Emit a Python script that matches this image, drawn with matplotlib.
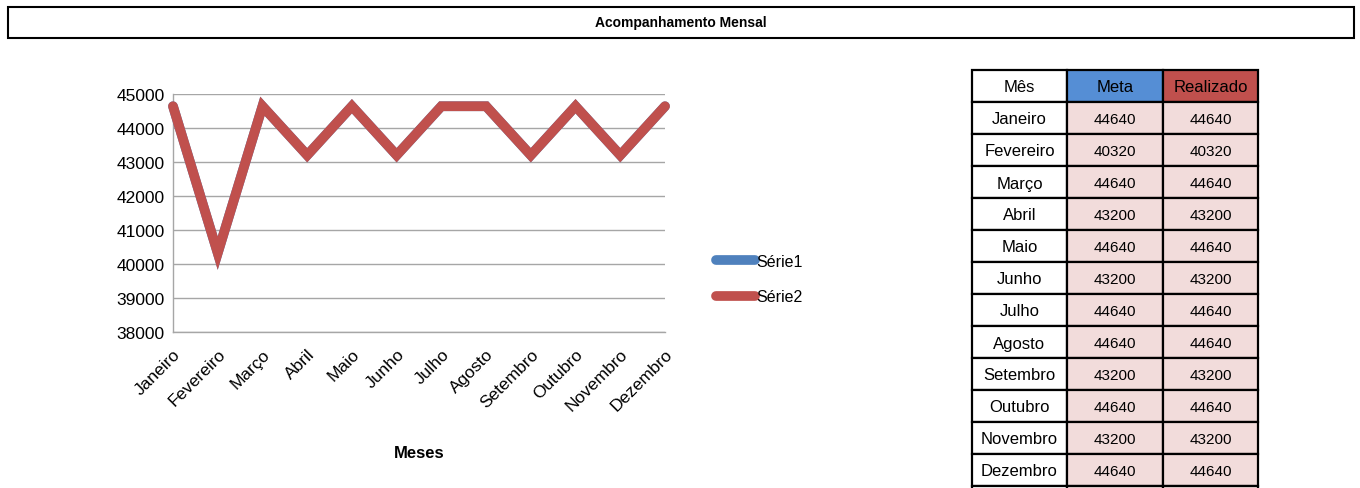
import matplotlib
matplotlib.use("Agg")
import matplotlib.pyplot as plt
from matplotlib.patches import Rectangle

plt.rcParams["font.family"] = ["Liberation Sans", "DejaVu Sans"]

# ── Data ──────────────────────────────────────────────
meses = ["Janeiro", "Fevereiro", "Março", "Abril", "Maio", "Junho",
         "Julho", "Agosto", "Setembro", "Outubro", "Novembro", "Dezembro"]
meta = [44640, 40320, 44640, 43200, 44640, 43200,
        44640, 44640, 43200, 44640, 43200, 44640]
realizado = [44640, 40320, 44640, 43200, 44640, 43200,
             44640, 44640, 43200, 44640, 43200, 44640]
yticks = [38000, 39000, 40000, 41000, 42000, 43000, 44000, 45000]

BLUE = "#4F81BD"
RED = "#C0504D"
W, H = 1360, 489

fig = plt.figure(figsize=(W / 100, H / 100), dpi=100)

# ── Background canvas in pixel coords (title box + table) ──
bg = fig.add_axes([0, 0, 1, 1])
bg.set_xlim(0, W)
bg.set_ylim(H, 0)
bg.axis("off")

bg.add_patch(Rectangle((8, 8), 1346, 31, fill=False, edgecolor="black",
                       linewidth=1.5))
bg.text(681, 23.5, "Acompanhamento Mensal", ha="center", va="center",
        fontsize=10, fontweight="bold")

# table
col_x = [972, 1067, 1163, 1258]
row_top = 71
row_h = 32
header = ["Mês", "Meta", "Realizado"]
head_colors = ["white", "#558ED5", RED]
rows = [[m, str(a), str(b)] for m, a, b in zip(meses, meta, realizado)]

for j, txt in enumerate(header):
    x0, x1 = col_x[j], col_x[j + 1]
    bg.add_patch(Rectangle((x0, row_top), x1 - x0, row_h,
                           facecolor=head_colors[j], edgecolor="black",
                           linewidth=1.6))
    bg.text((x0 + x1) / 2, row_top + row_h / 2 + 1, txt, ha="center",
            va="center", fontsize=12)

for i, row in enumerate(rows + [["", "", ""]]):
    y0 = row_top + row_h * (i + 1)
    for j, txt in enumerate(row):
        x0, x1 = col_x[j], col_x[j + 1]
        fc = "white" if j == 0 else "#F2DCDB"
        bg.add_patch(Rectangle((x0, y0), x1 - x0, row_h, facecolor=fc,
                               edgecolor="black", linewidth=1.6))
        bg.text((x0 + x1) / 2, y0 + row_h / 2 + 1, txt, ha="center",
                va="center", fontsize=12 if j == 0 else 11)

# ── Line chart ────────────────────────────────────────
ax = fig.add_axes([173 / W, 1 - 333 / H, (665 - 173) / W, (333 - 95) / H])
x = list(range(len(meses)))
ax.plot(x, meta, color=BLUE, linewidth=7, solid_capstyle="round",
        solid_joinstyle="miter", label="Série1", clip_on=False, zorder=3)
ax.plot(x, realizado, color=RED, linewidth=7, solid_capstyle="round",
        solid_joinstyle="miter", label="Série2", clip_on=False, zorder=4)

ax.set_xlim(0, len(meses) - 1)
ax.set_ylim(38000, 45000)
ax.set_yticks(yticks)
ax.set_yticklabels([str(v) for v in yticks], fontsize=12.5)
ax.yaxis.grid(True, color="#A6A6A6", linewidth=1)
ax.set_axisbelow(True)

ax.set_xticks(x)
ax.set_xticklabels(meses, rotation=45, ha="right", rotation_mode="anchor",
                   fontsize=12.5)
ax.tick_params(axis="both", length=0)
ax.tick_params(axis="y", pad=6)
ax.tick_params(axis="x", pad=10)

for side in ("top", "right"):
    ax.spines[side].set_visible(False)
for side in ("left", "bottom"):
    ax.spines[side].set_color("#A6A6A6")
    ax.spines[side].set_linewidth(1)

ax.set_xlabel("Meses", fontsize=12, fontweight="bold", labelpad=23)

ax.legend(loc="center left", bbox_to_anchor=(702 / W, 1 - 280 / H),
          bbox_transform=fig.transFigure, frameon=False, fontsize=11.5,
          handlelength=2.4, handletextpad=0.1, labelspacing=1.3)

fig.savefig("out.png", dpi=100)
